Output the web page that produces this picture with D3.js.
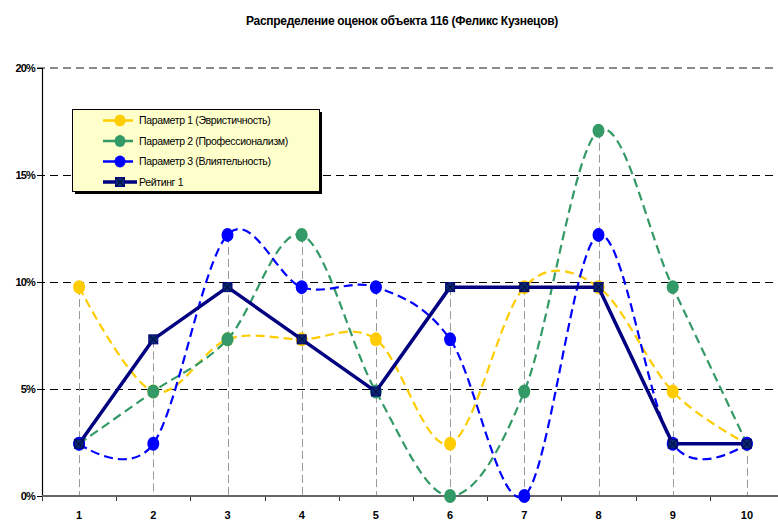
<!DOCTYPE html>
<html><head><meta charset="utf-8">
<script src="https://cdn.jsdelivr.net/npm/d3@7"></script>
<style>
html,body{margin:0;padding:0;background:#fff;}
svg{display:block;font-family:"Liberation Sans",Arial,sans-serif;}
</style></head>
<body><svg id="c" width="778" height="522"></svg>
<script>
const title = "Распределение оценок объекта 116 (Феликс Кузнецов)";
const categories = ["1","2","3","4","5","6","7","8","9","10"];
const param1 = [9.76, 4.88, 7.32, 7.32, 7.32, 2.44, 9.76, 9.76, 4.88, 2.44];
const param2 = [2.44, 4.88, 7.32, 12.20, 4.88, 0.00, 4.88, 17.07, 9.76, 2.44];
const param3 = [2.44, 2.44, 12.20, 9.76, 9.76, 7.32, 0.00, 12.20, 2.44, 2.44];
const rating1 = [2.44, 7.32, 9.76, 7.32, 4.88, 9.76, 9.76, 9.76, 2.44, 2.44];
const yTicks = [0, 5, 10, 15, 20];
const seriesNames = ["Параметр 1 (Эвристичность)", "Параметр 2 (Профессионализм)", "Параметр 3 (Влиятельность)", "Рейтинг 1"];

const series = [
  {name: seriesNames[0], values: param1, color: "#FFCC00", dashed: true, marker: "circle"},
  {name: seriesNames[1], values: param2, color: "#339966", dashed: true, marker: "circle"},
  {name: seriesNames[2], values: param3, color: "#0000FF", dashed: true, marker: "circle"},
  {name: seriesNames[3], values: rating1, color: "#000080", dashed: false, marker: "square"}
];

const svg = d3.select("#c");
const x = d3.scaleBand().domain(categories).range([42, 784]);
const cx = c => x(c) + x.bandwidth() / 2;
const y = d3.scaleLinear().domain([0, 20]).range([496, 68]);
const crisp = v => Math.round(v) + 0.5;

// title
svg.append("text").attr("x", 402).attr("y", 25).attr("text-anchor", "middle")
  .attr("font-size", 12).attr("font-weight", "bold").attr("letter-spacing", -0.3)
  .text(title);

// gridlines
svg.append("g").selectAll("line").data(yTicks.filter(t => t > 0 && t < 20)).join("line")
  .attr("x1", 37).attr("x2", 778).attr("y1", d => crisp(y(d))).attr("y2", d => crisp(y(d)))
  .attr("stroke", "#000").attr("stroke-width", 1).attr("stroke-dasharray", "8,5");
svg.append("line").attr("x1", 37).attr("x2", 778).attr("y1", y(20)).attr("y2", y(20))
  .attr("stroke", "#8a8a8a").attr("stroke-width", 2).attr("stroke-dasharray", "8,5");

// drop lines
const maxes = categories.map((c, i) => d3.max(series, s => s.values[i]));
svg.append("g").selectAll("line").data(categories).join("line")
  .attr("x1", d => crisp(cx(d))).attr("x2", d => crisp(cx(d)))
  .attr("y1", (d, i) => y(maxes[i])).attr("y2", y(0))
  .attr("stroke", "#999").attr("stroke-width", 1).attr("stroke-dasharray", "8,4");

// y axis
const yAxis = svg.append("g").attr("transform", "translate(42,0)")
  .call(d3.axisLeft(y).tickValues(yTicks).tickFormat(d => d + "%").tickSize(5).tickPadding(2));
yAxis.select(".domain").attr("stroke", "#000").attr("stroke-width", 1.2);
yAxis.selectAll(".tick line").attr("stroke", "#000");
yAxis.selectAll("text").attr("font-size", 11).attr("font-weight", "bold")
  .attr("letter-spacing", -0.8).attr("font-family", "Liberation Sans, Arial, sans-serif").attr("fill", "#000");

// x axis
const xAxis = svg.append("g").attr("transform", "translate(0," + y(0) + ")")
  .call(d3.axisBottom(x).tickSize(0).tickPadding(15));
xAxis.select(".domain").remove();
xAxis.selectAll("text").attr("font-size", 11).attr("font-weight", "bold")
  .attr("font-family", "Liberation Sans, Arial, sans-serif").attr("fill", "#000");
svg.append("g").selectAll("line").data(categories).join("line")
  .attr("x1", d => crisp(x(d))).attr("x2", d => crisp(x(d))).attr("y1", y(0)).attr("y2", y(0) + 5)
  .attr("stroke", "#333").attr("stroke-width", 1);
svg.append("line").attr("x1", 42).attr("x2", 778).attr("y1", y(0)).attr("y2", y(0))
  .attr("stroke", "#666").attr("stroke-width", 2.2);

// series
const smooth = d3.line().x(d => cx(d.c)).y(d => y(d.v)).curve(d3.curveCardinal.tension(0));
const straight = d3.line().x(d => cx(d.c)).y(d => y(d.v));

function drawSquare(g, px, py, s) {
  g.append("rect").attr("x", px - 4.5).attr("y", py - 4.5).attr("width", 9).attr("height", 9)
    .attr("fill", "#0a2a6e").attr("stroke", s.color).attr("stroke-width", 1);
  g.append("path").attr("d", `M${px-4},${py-4}L${px+4},${py+4}M${px+4},${py-4}L${px-4},${py+4}`)
    .attr("stroke", "#000040").attr("stroke-width", 1);
}

series.forEach(s => {
  const pts = categories.map((c, i) => ({c, v: s.values[i]}));
  const g = svg.append("g");
  g.append("path").attr("d", s.dashed ? smooth(pts) : straight(pts))
    .attr("fill", "none").attr("stroke", s.color)
    .attr("stroke-width", s.dashed ? 2.2 : 3.5)
    .attr("stroke-dasharray", s.dashed ? "9,5" : null)
    .attr("stroke-linejoin", "round");
  pts.forEach(p => {
    if (s.marker === "circle") {
      g.append("ellipse").attr("cx", cx(p.c)).attr("cy", y(p.v)).attr("rx", 6).attr("ry", 7)
        .attr("fill", s.color);
    } else {
      drawSquare(g, cx(p.c), y(p.v), s);
    }
  });
});

// legend
const lg = svg.append("g");
lg.append("rect").attr("x", 75).attr("y", 112).attr("width", 247).attr("height", 82).attr("fill", "#000");
lg.append("rect").attr("x", 72.5).attr("y", 109.5).attr("width", 247).attr("height", 82)
  .attr("fill", "#FFFFCC").attr("stroke", "#000").attr("stroke-width", 1);
series.forEach((s, i) => {
  const ly = 120.5 + i * 20.5;
  lg.append("line").attr("x1", 103).attr("x2", 137).attr("y1", ly).attr("y2", ly)
    .attr("stroke", s.color).attr("stroke-width", s.dashed ? 2.5 : 3.5)
    .attr("stroke-dasharray", s.dashed ? "12,6" : null);
  if (s.marker === "circle") {
    lg.append("ellipse").attr("cx", 120).attr("cy", ly).attr("rx", 5.5).attr("ry", 6).attr("fill", s.color);
  } else {
    drawSquare(lg, 120, ly, s);
  }
  lg.append("text").attr("x", 139).attr("y", ly + 3.5).attr("font-size", 10.5)
    .attr("letter-spacing", -0.35).attr("fill", "#000").text(s.name);
});
</script></body></html>
